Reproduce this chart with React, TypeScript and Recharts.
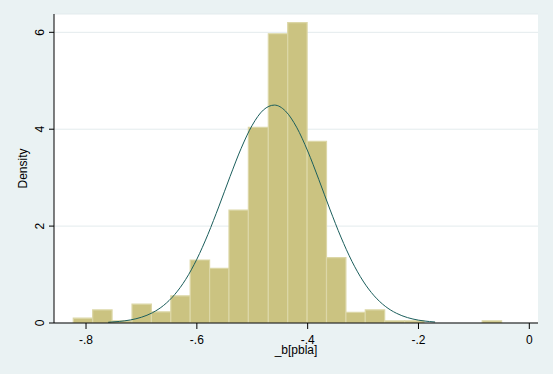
import React from "react";
import {
  ComposedChart,
  Line,
  XAxis,
  YAxis,
  CartesianGrid,
  ReferenceArea,
  Label,
} from "recharts";

// Histogram bins of _b[pbla] (left edges, right edges, densities)
const binLeft = [
  -0.823, -0.788, -0.753, -0.717, -0.682, -0.647, -0.612, -0.577, -0.542, -0.507, -0.471,
  -0.436, -0.401, -0.366, -0.331, -0.296, -0.261, -0.225, -0.19, -0.155, -0.12, -0.085,
];
const binRight = [
  -0.788, -0.753, -0.717, -0.682, -0.647, -0.612, -0.577, -0.542, -0.507, -0.471, -0.436,
  -0.401, -0.366, -0.331, -0.296, -0.261, -0.225, -0.19, -0.155, -0.12, -0.085, -0.05,
];
const binDensity = [
  0.1, 0.27, 0.045, 0.39, 0.23, 0.56, 1.3, 1.13, 2.33, 4.04, 5.97,
  6.2, 3.75, 1.35, 0.22, 0.27, 0.045, 0.045, 0, 0, 0, 0.045,
];

// Normal density overlay
const curveX = [
  -0.76, -0.74, -0.72, -0.7, -0.68, -0.66, -0.64, -0.62, -0.6, -0.58, -0.56, -0.54, -0.52, -0.5,
  -0.48, -0.46, -0.44, -0.42, -0.4, -0.38, -0.36, -0.34, -0.32, -0.3, -0.28, -0.26, -0.24, -0.22,
  -0.2, -0.18, -0.17,
];
const curveY = [
  0.015, 0.032, 0.063, 0.119, 0.213, 0.363, 0.587, 0.902, 1.317, 1.829, 2.413, 3.025, 3.606, 4.083,
  4.396, 4.498, 4.374, 4.042, 3.551, 2.965, 2.352, 1.774, 1.271, 0.866, 0.561, 0.345, 0.202, 0.112,
  0.059, 0.03, 0.02,
];

const xTicks = [-0.8, -0.6, -0.4, -0.2, 0];
const xTickLabels = ["-.8", "-.6", "-.4", "-.2", "0"];
const yTicks = [0, 2, 4, 6];

const curveData = curveX.map((x, i) => ({ x, d: curveY[i] }));

const FONT = "'Liberation Sans', Arial, sans-serif";

const XTick = (props: any) => {
  const { x, y, payload } = props;
  const idx = xTicks.indexOf(payload.value);
  return (
    <text x={x} y={y + 13} textAnchor="middle" fontSize={12} fontFamily={FONT} fill="#000">
      {idx >= 0 ? xTickLabels[idx] : String(payload.value)}
    </text>
  );
};

const YTick = (props: any) => {
  const { x, y, payload } = props;
  const bx = x - 3;
  return (
    <text
      x={bx}
      y={y}
      transform={`rotate(-90, ${bx}, ${y})`}
      textAnchor="middle"
      fontSize={12}
      fontFamily={FONT}
      fill="#000"
    >
      {payload.value}
    </text>
  );
};

export default function App() {
  return (
    <div
      style={{
        position: "absolute",
        left: 0,
        top: 0,
        width: 553,
        height: 374,
        background: "#EAF2F3",
      }}
    >
      <ComposedChart
        width={553}
        height={374}
        data={curveData}
        margin={{ top: 14, right: 15, bottom: 0, left: 0 }}
      >
        <CartesianGrid fill="#FFFFFF" vertical={false} stroke="#E3EBED" />
        <XAxis
          dataKey="x"
          type="number"
          domain={[-0.8578, 0.0157]}
          ticks={xTicks}
          interval={0}
          allowDataOverflow
          height={51}
          tickSize={6}
          axisLine={{ stroke: "#000", strokeWidth: 1 }}
          tickLine={{ stroke: "#000" }}
          tick={<XTick />}
        >
          <Label
            content={(p: any) => {
              const vb = p.viewBox;
              return (
                <text
                  x={vb.x + vb.width / 2}
                  y={354}
                  textAnchor="middle"
                  fontSize={12}
                  fontFamily={FONT}
                  fill="#000"
                >
                  _b[pbla]
                </text>
              );
            }}
          />
        </XAxis>
        <YAxis
          type="number"
          domain={[0, 6.378]}
          ticks={yTicks}
          interval={0}
          allowDataOverflow
          width={54}
          tickSize={5}
          axisLine={{ stroke: "#000", strokeWidth: 1 }}
          tickLine={{ stroke: "#000" }}
          tick={<YTick />}
        >
          <Label
            content={(p: any) => {
              const vb = p.viewBox;
              const cy = vb.y + vb.height / 2;
              return (
                <text
                  x={27}
                  y={cy}
                  transform={`rotate(-90, 27, ${cy})`}
                  textAnchor="middle"
                  fontSize={12}
                  fontFamily={FONT}
                  fill="#000"
                >
                  Density
                </text>
              );
            }}
          />
        </YAxis>
        {binDensity.map((h, i) =>
          h > 0 ? (
            <ReferenceArea
              key={i}
              x1={binLeft[i]}
              x2={binRight[i]}
              y1={0}
              y2={h}
              fill="#CBC381"
              fillOpacity={1}
              stroke="#DCD7A7"
              strokeWidth={1.2}
              ifOverflow="hidden"
            />
          ) : null
        )}
        <Line
          dataKey="d"
          type="monotone"
          stroke="#1B5E5C"
          strokeWidth={1}
          dot={false}
          activeDot={false}
          isAnimationActive={false}
        />
      </ComposedChart>
    </div>
  );
}
